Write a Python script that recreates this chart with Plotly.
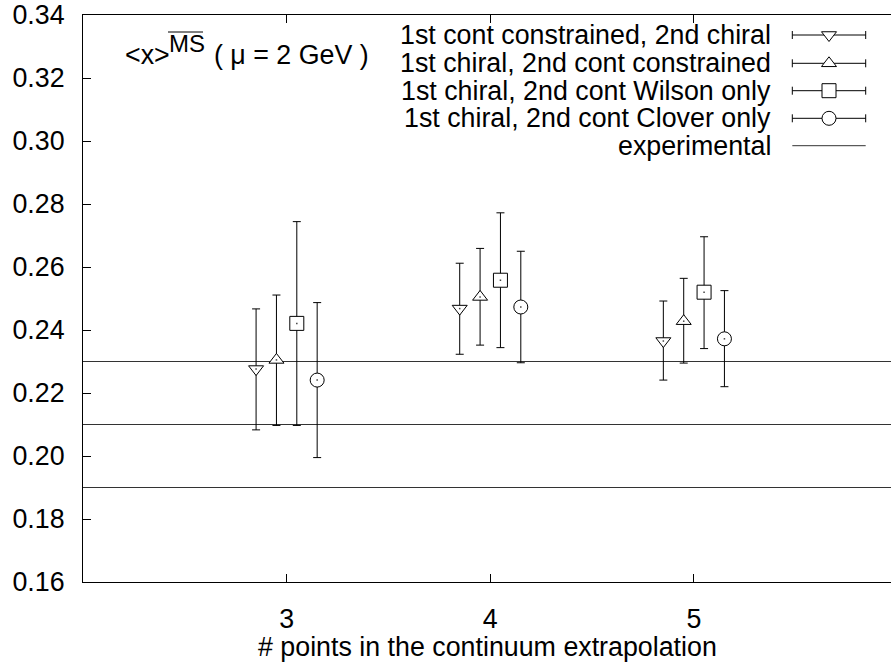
import plotly.graph_objects as go

# ---- data ---------------------------------------------------------------
n_points = [3, 4, 5]
x_offsets = [-0.15, -0.05, 0.05, 0.15]

series_names = [
    "1st cont constrained, 2nd chiral",
    "1st chiral, 2nd cont constrained",
    "1st chiral, 2nd cont Wilson only",
    "1st chiral, 2nd cont Clover only",
]
series_symbols = ["triangle-down", "triangle-up", "square", "circle"]

cont_chiral_y = [0.2276, 0.2468, 0.2365]
cont_chiral_hi = [0.2467, 0.2612, 0.2492]
cont_chiral_lo = [0.2083, 0.2323, 0.2241]

chiral_cont_y = [0.2305, 0.2505, 0.2428]
chiral_cont_hi = [0.2511, 0.2659, 0.2564]
chiral_cont_lo = [0.2097, 0.2352, 0.2295]

wilson_y = [0.2421, 0.2558, 0.2520]
wilson_hi = [0.2744, 0.2772, 0.2696]
wilson_lo = [0.2097, 0.2344, 0.2341]

clover_y = [0.2241, 0.2473, 0.2372]
clover_hi = [0.2487, 0.2650, 0.2525]
clover_lo = [0.1995, 0.2296, 0.2220]

experimental_value = 0.21
experimental_error = 0.02

x_range = [2.0, 5.968]
y_range = [0.16, 0.34]
y_ticks = [0.16, 0.18, 0.20, 0.22, 0.24, 0.26, 0.28, 0.30, 0.32, 0.34]

# ---- page geometry ------------------------------------------------------
W, H = 891, 668
PL, PR, PT, PB = 83, 891, 15, 582   # plot area in pixels


def fx(px):
    return (px - PL) / (PR - PL)


def fy(py):
    return (PB - py) / (PB - PT)


FONT = "Liberation Sans, Arial, Helvetica, sans-serif"
FS = 26.8
INK = "black"

series = [
    (cont_chiral_y, cont_chiral_hi, cont_chiral_lo),
    (chiral_cont_y, chiral_cont_hi, chiral_cont_lo),
    (wilson_y, wilson_hi, wilson_lo),
    (clover_y, clover_hi, clover_lo),
]


def marker_size(sym):
    return 13 if sym.startswith("triangle") else 14


fig = go.Figure()

# experimental band: central value and its upper/lower bounds
for level in (experimental_value - experimental_error,
              experimental_value,
              experimental_value + experimental_error):
    fig.add_trace(go.Scatter(
        x=x_range, y=[level, level], mode="lines",
        line=dict(color="#333333", width=1), hoverinfo="skip",
    ))

# lattice results with asymmetric error bars
for (ys, his, los), off, sym in zip(series, x_offsets, series_symbols):
    xs = [n + off for n in n_points]
    fig.add_trace(go.Scatter(
        x=xs, y=ys, mode="markers",
        marker=dict(symbol=sym, size=marker_size(sym),
                    color="white", line=dict(color=INK, width=1)),
        error_y=dict(type="data", symmetric=False,
                     array=[h - y for h, y in zip(his, ys)],
                     arrayminus=[y - l for l, y in zip(los, ys)],
                     color=INK, thickness=1, width=4),
    ))
    # centre dot
    fig.add_trace(go.Scatter(
        x=xs, y=ys, mode="markers",
        marker=dict(symbol="square", size=1.5, color="#444444"),
        hoverinfo="skip",
    ))

# ---- key (drawn on an overlay axis in plot-area fractions) --------------
key_rows = [35, 63.3, 90.7, 118.3, 145.7]
key_x0, key_x1, key_text_right = 792.3, 865.7, 773
key_mid = (key_x0 + key_x1) / 2
half = fx(key_x1) - fx(key_mid)

for row, sym, name in zip(key_rows, series_symbols, series_names):
    fig.add_trace(go.Scatter(
        x=[fx(key_mid)], y=[fy(row)], xaxis="x2", yaxis="y2", mode="markers",
        marker=dict(symbol=sym, size=marker_size(sym),
                    color="white", line=dict(color=INK, width=1)),
        error_x=dict(type="constant", value=half, color=INK, thickness=1, width=4),
        cliponaxis=False, hoverinfo="skip",
    ))
    fig.add_annotation(x=fx(key_text_right), y=fy(row), xref="paper", yref="paper",
                       text=name, showarrow=False, xanchor="right", yanchor="middle",
                       font=dict(family=FONT, size=FS, color=INK))

fig.add_trace(go.Scatter(
    x=[fx(key_x0), fx(key_x1)], y=[fy(key_rows[4])] * 2, xaxis="x2", yaxis="y2",
    mode="lines", line=dict(color="#333333", width=1), cliponaxis=False,
    hoverinfo="skip",
))
fig.add_annotation(x=fx(key_text_right), y=fy(key_rows[4]), xref="paper", yref="paper",
                   text="experimental", showarrow=False, xanchor="right",
                   yanchor="middle", font=dict(family=FONT, size=FS, color=INK))

# ---- observable label:  <x>^{MS-bar} ( mu = 2 GeV ) ---------------------
fig.add_annotation(x=fx(123), y=fy(55), xref="paper", yref="paper",
                   text="&lt;x&gt;", showarrow=False, xanchor="left",
                   yanchor="middle", font=dict(family=FONT, size=FS, color=INK))
fig.add_annotation(x=fx(167), y=fy(43), xref="paper", yref="paper",
                   text="MS", showarrow=False, xanchor="left",
                   yanchor="middle", font=dict(family=FONT, size=24, color=INK))
fig.add_shape(type="line", xref="paper", yref="paper",
              x0=fx(168), x1=fx(203), y0=fy(32), y1=fy(32),
              line=dict(color=INK, width=1))
fig.add_annotation(x=fx(212), y=fy(55), xref="paper", yref="paper",
                   text="( \u03bc = 2 GeV )", showarrow=False, xanchor="left",
                   yanchor="middle", font=dict(family=FONT, size=FS, color=INK))

# ---- x-axis title -------------------------------------------------------
fig.add_annotation(x=fx(487), y=fy(647), xref="paper", yref="paper",
                   text="# points in the continuum extrapolation", showarrow=False,
                   xanchor="center", yanchor="middle",
                   font=dict(family=FONT, size=FS, color=INK))

fig.update_layout(
    width=W, height=H, autosize=False,
    margin=dict(l=PL, r=W - PR, t=PT, b=H - PB, pad=0),
    paper_bgcolor="white", plot_bgcolor="white",
    showlegend=False,
    font=dict(family=FONT, size=FS, color=INK),
    xaxis=dict(range=x_range, tickvals=n_points, ticks="inside", ticklen=8,
               tickwidth=1, tickcolor=INK, showline=True, linecolor=INK,
               linewidth=1, mirror="ticks", showgrid=False, zeroline=False,
               ticklabelstandoff=13,
               tickfont=dict(family=FONT, size=FS, color=INK)),
    yaxis=dict(range=y_range, tickvals=y_ticks, tickformat=".2f",
               ticks="inside", ticklen=8, tickwidth=1, tickcolor=INK,
               showline=True, linecolor=INK, linewidth=1, showgrid=False,
               zeroline=False, ticklabelstandoff=12,
               tickfont=dict(family=FONT, size=FS, color=INK)),
    xaxis2=dict(overlaying="x", anchor="y2", range=[0, 1], visible=False,
                fixedrange=True),
    yaxis2=dict(overlaying="y", anchor="x2", range=[0, 1], visible=False,
                fixedrange=True),
)

fig.write_html("out.html")
